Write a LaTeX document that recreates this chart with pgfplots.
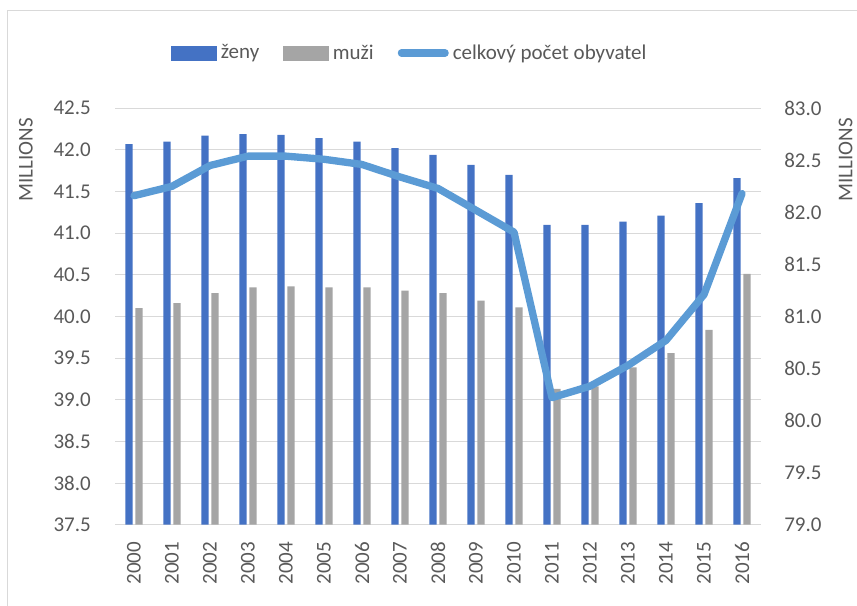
\documentclass[border=0pt]{standalone}
\usepackage{pgfplots}
\pgfplotsset{compat=1.18}
\usepackage{fontspec}
\setmainfont{Carlito}
\definecolor{zeny}{HTML}{4472C4}
\definecolor{muzi}{HTML}{A5A5A5}
\definecolor{celk}{HTML}{5B9BD5}
\definecolor{gridc}{HTML}{D9D9D9}
\definecolor{txt}{HTML}{595959}
\begin{document}
\begin{tikzpicture}[font=\fontsize{15.75}{19}\selectfont, text=txt]
\useasboundingbox (0,0) rectangle (642.75pt,454.5pt);
\draw[gridc, line width=0.75pt] (5.25pt,0pt) -- (5.25pt,446.25pt) -- (660pt,446.25pt);
\pgfplotsset{common/.style={
  at={(86.25pt,61pt)}, anchor=south west, scale only axis,
  width=484.5pt, height=312.3pt,
  xmin=-0.5, xmax=16.5, xtick={0,...,16},
  major tick length=0pt,
  y axis line style={draw=none},
  yticklabel style={/pgf/number format/fixed, /pgf/number format/fixed zerofill, /pgf/number format/precision=1, /pgf/number format/assume math mode=true},
  tick label style={font=\fontsize{15.75}{19}\selectfont, text=txt},
  label style={font=\fontsize{15.75}{19}\selectfont, text=txt},
}}
\begin{axis}[common,
  ymin=37.5, ymax=42.5, ytick={37.5,38,38.5,39,39.5,40,40.5,41,41.5,42,42.5},
  axis x line*=bottom, axis y line*=left,
  x axis line style={draw=gridc, line width=0.75pt},
  ymajorgrids, grid style={gridc, line width=0.75pt},
  ybar=2pt, bar width=5.5pt,
  xticklabels={2000,2001,2002,2003,2004,2005,2006,2007,2008,2009,2010,2011,2012,2013,2014,2015,2016},
  xticklabel style={rotate=90, anchor=east, inner sep=0pt},
  xticklabel shift=12.75pt,
  yticklabel style={anchor=east, inner sep=0pt},
  yticklabel shift=18pt,
  ylabel={MILLIONS},
  ylabel style={at={(axis description cs:-0.1378,0.977)}, anchor=east, inner sep=0pt},
]
\addplot[fill=zeny, draw=none] coordinates {
(0,42.07) (1,42.10) (2,42.17) (3,42.19) (4,42.18) (5,42.14) (6,42.10) (7,42.02) (8,41.94)
(9,41.82) (10,41.70) (11,41.10) (12,41.10) (13,41.14) (14,41.21) (15,41.36) (16,41.66)};
\addplot[fill=muzi, draw=none] coordinates {
(0,40.10) (1,40.16) (2,40.28) (3,40.35) (4,40.36) (5,40.35) (6,40.35) (7,40.31) (8,40.28)
(9,40.19) (10,40.11) (11,39.13) (12,39.16) (13,39.39) (14,39.56) (15,39.84) (16,40.51)};
\end{axis}
\begin{axis}[common,
  ymin=79, ymax=83, ytick={79,79.5,80,80.5,81,81.5,82,82.5,83},
  axis x line=none, axis y line*=right,
  yticklabel style={anchor=west, inner sep=0pt},
  yticklabel shift=17.25pt,
  ylabel={MILLIONS},
  ylabel style={at={(axis description cs:1.131,0.977)}, anchor=east, inner sep=0pt},
  legend columns=-1,
  legend style={at={(axis description cs:0.456,1.133)}, anchor=center, draw=none, fill=none,
    font=\fontsize{15.75}{19}\selectfont, text=txt,
    nodes={inner sep=1pt},
    /tikz/every odd column/.append style={column sep=2pt},
    /tikz/every even column/.append style={column sep=17pt}},
]
\addlegendimage{legend image code/.code={\fill[zeny] (0pt,-5.25pt) rectangle (33.75pt,5.25pt);}}
\addlegendentry{ženy}
\addlegendimage{legend image code/.code={\fill[muzi] (0pt,-5.25pt) rectangle (33.75pt,5.25pt);}}
\addlegendentry{muži}
\addplot[celk, line width=5.5pt, line cap=round, line join=round,
  legend image code/.code={\draw[celk, line width=5.5pt, line cap=round] (2.75pt,0pt) -- (35.5pt,0pt);}]
coordinates {
(0,82.16) (1,82.25) (2,82.45) (3,82.54) (4,82.54) (5,82.51) (6,82.46) (7,82.34) (8,82.23)
(9,82.02) (10,81.81) (11,80.22) (12,80.33) (13,80.53) (14,80.77) (15,81.21) (16,82.18)};
\addlegendentry{celkový počet obyvatel}
\end{axis}
\end{tikzpicture}
\end{document}
